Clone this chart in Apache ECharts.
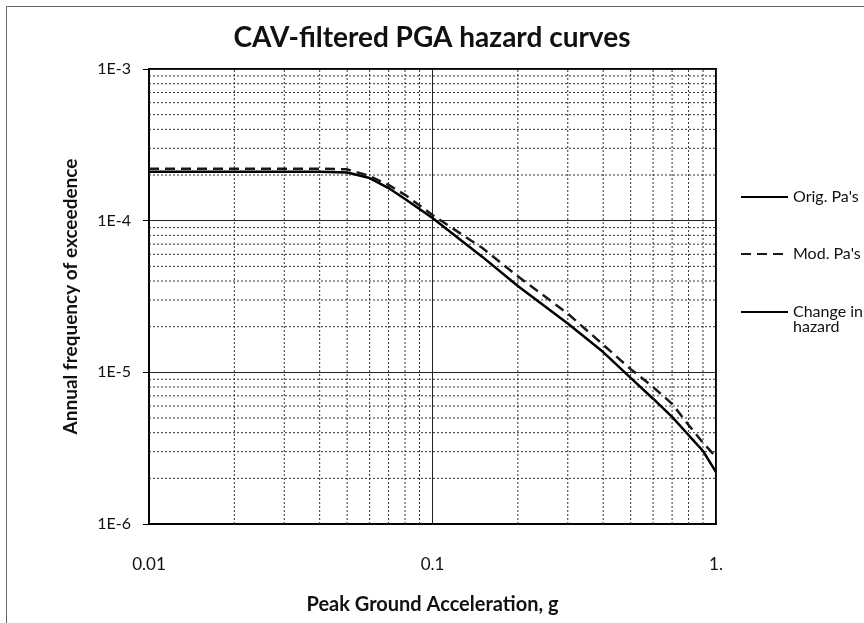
<!DOCTYPE html>
<html>
<head>
<meta charset="utf-8">
<script src="https://cdn.jsdelivr.net/npm/echarts@6/dist/echarts.min.js"></script>
<style>
html,body{margin:0;padding:0;background:#fff;}
#c{width:864px;height:623px;}
</style>
</head>
<body>
<div id="c"></div>
<script>
// ---- data ----
const pga = [0.01, 0.015, 0.02, 0.03, 0.04, 0.05, 0.06, 0.07, 0.08, 0.1, 0.15, 0.2, 0.3, 0.4, 0.5, 0.6, 0.7, 0.8, 0.9, 1.0];
const origPa = [2.1e-4, 2.1e-4, 2.1e-4, 2.1e-4, 2.1e-4, 2.08e-4, 1.91e-4, 1.64e-4, 1.39e-4, 1.04e-4, 5.77e-5, 3.71e-5, 2.1e-5, 1.36e-5, 9.2e-6, 6.7e-6, 5.08e-6, 3.86e-6, 3.03e-6, 2.2e-6];
const modPa = [2.2e-4, 2.2e-4, 2.2e-4, 2.2e-4, 2.2e-4, 2.18e-4, 1.97e-4, 1.72e-4, 1.48e-4, 1.09e-4, 6.6e-5, 4.3e-5, 2.44e-5, 1.52e-5, 1.05e-5, 8.0e-6, 6.2e-6, 4.5e-6, 3.43e-6, 2.77e-6];
const changeHazard = [];
const xTickLabels = ['0.01', '0.1', '1.'];
const yTickLabels = ['1E-6', '1E-5', '1E-4', '1E-3'];
const minorX = [0.02, 0.03, 0.04, 0.05, 0.06, 0.07, 0.08, 0.09, 0.2, 0.3, 0.4, 0.5, 0.6, 0.7, 0.8, 0.9];
const minorY = [2e-6, 3e-6, 4e-6, 5e-6, 6e-6, 7e-6, 8e-6, 9e-6, 2e-5, 3e-5, 4e-5, 5e-5, 6e-5, 7e-5, 8e-5, 9e-5, 2e-4, 3e-4, 4e-4, 5e-4, 6e-4, 7e-4, 8e-4, 9e-4];
const xRange = [0.01, 1];
const yRange = [1e-6, 1e-3];
const seriesNames = ["Orig. Pa's", "Mod. Pa's", "Change in hazard"];

const FONT = 'Lato';
const chart = echarts.init(document.getElementById('c'), null, {renderer: 'canvas'});

const gridSeries = [];
minorX.forEach(v => gridSeries.push({
  type: 'line', silent: true, showSymbol: false, symbol: 'none', z: 1,
  data: [[v, yRange[0]], [v, yRange[1]]],
  lineStyle: {color: '#333', width: 1, type: [2, 2]}
}));
minorY.forEach(v => gridSeries.push({
  type: 'line', silent: true, showSymbol: false, symbol: 'none', z: 1,
  data: [[xRange[0], v], [xRange[1], v]],
  lineStyle: {color: '#333', width: 1, type: [2, 2]}
}));

const legendBase = {
  orient: 'vertical', itemWidth: 47, itemHeight: 12, selectedMode: false,
  itemStyle: {opacity: 0},
  textStyle: {fontFamily: FONT, fontSize: 16, color: '#111'}
};

chart.setOption({
  backgroundColor: '#fff',
  animation: false,
  title: {
    text: 'CAV-filtered PGA hazard curves',
    left: 'center', top: 19,
    textStyle: {fontFamily: FONT, fontWeight: 'bold', fontSize: 28, color: '#111'}
  },
  grid: {left: 149, top: 69, width: 567, height: 455, show: true, borderColor: '#000', borderWidth: 2, backgroundColor: 'transparent'},
  legend: [
    Object.assign({}, legendBase, {left: 735, top: 184, data: [{name: seriesNames[0], lineStyle: {width: 2}}]}),
    Object.assign({}, legendBase, {left: 735, top: 241, data: [{name: seriesNames[1]}]}),
    Object.assign({}, legendBase, {left: 735, top: 299, data: [{name: seriesNames[2]}], formatter: () => 'Change in'})
  ],
  graphic: [
    {type: 'rect', left: 4, top: 4, shape: {width: 900, height: 700}, style: {fill: 'none', stroke: '#666', lineWidth: 1}, silent: true, z: -10},
    {type: 'text', left: 793, top: 319, style: {text: 'hazard', fontFamily: FONT, fontSize: 16, fill: '#111'}}
  ],
  xAxis: {
    type: 'log', logBase: 10, min: xRange[0], max: xRange[1],
    name: 'Peak Ground Acceleration, g', nameLocation: 'middle', nameGap: 71,
    nameTextStyle: {fontFamily: FONT, fontWeight: 'bold', fontSize: 20, color: '#111'},
    axisLine: {show: true, lineStyle: {color: '#000', width: 1.5}},
    axisTick: {show: false},
    axisLabel: {
      margin: 32, fontFamily: FONT, fontSize: 17, color: '#111',
      formatter: v => xTickLabels[Math.round(Math.log10(v)) + 2]
    },
    splitLine: {show: true, lineStyle: {color: '#222', width: 1, type: 'solid'}}
  },
  yAxis: {
    type: 'log', logBase: 10, min: yRange[0], max: yRange[1],
    name: 'Annual frequency of exceedence', nameLocation: 'middle', nameGap: 69,
    nameTextStyle: {fontFamily: FONT, fontWeight: 'bold', fontSize: 19, color: '#111'},
    axisLine: {show: true, lineStyle: {color: '#000', width: 1.5}},
    axisTick: {show: true, length: 6, lineStyle: {color: '#000', width: 1}},
    axisLabel: {
      margin: 18, fontFamily: FONT, fontSize: 16, color: '#111',
      formatter: v => yTickLabels[Math.round(Math.log10(v)) + 6]
    },
    splitLine: {show: true, lineStyle: {color: '#222', width: 1, type: 'solid'}}
  },
  series: gridSeries.concat([
    {
      name: seriesNames[0], type: 'line', showSymbol: false, symbol: 'none',
      data: pga.map((x, i) => [x, origPa[i]]),
      lineStyle: {color: '#000', width: 2.5, type: 'solid'}, itemStyle: {color: '#000'}, z: 5
    },
    {
      name: seriesNames[1], type: 'line', showSymbol: false, symbol: 'none',
      data: pga.map((x, i) => [x, modPa[i]]),
      lineStyle: {color: '#1a1a1a', width: 2.5, type: [10, 6]}, itemStyle: {color: '#1a1a1a'}, z: 6
    },
    {
      name: seriesNames[2], type: 'line', showSymbol: false, symbol: 'none',
      data: changeHazard,
      lineStyle: {color: '#000', width: 3.5, type: 'solid'}, itemStyle: {color: '#000'}
    }
  ])
});
</script>
</body>
</html>
